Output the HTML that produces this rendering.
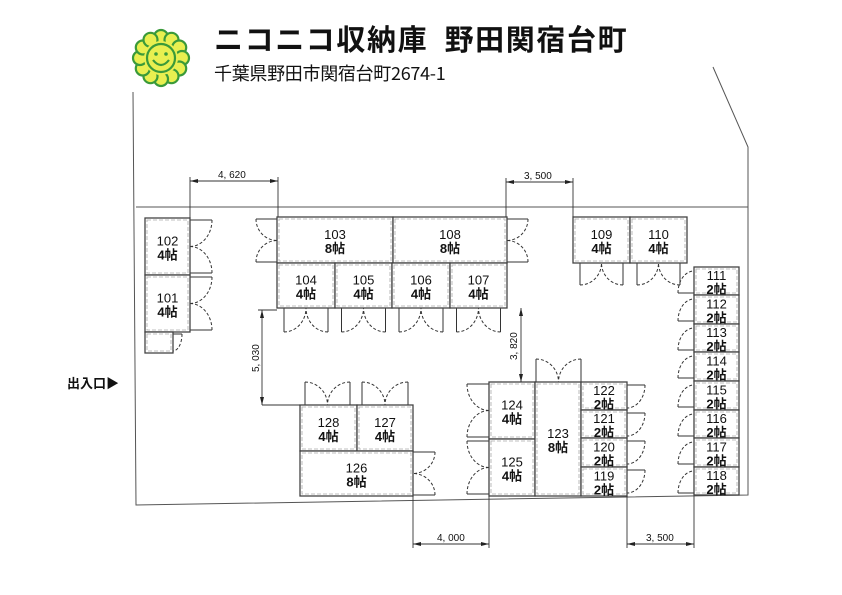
<!DOCTYPE html>
<html><head><meta charset="utf-8"><style>
html,body{margin:0;padding:0;background:#fff;}
body{width:842px;height:595px;overflow:hidden;position:relative;font-family:"Liberation Sans","Noto Sans CJK JP",sans-serif;}
.t1{position:absolute;left:214px;top:17px;font-size:29px;font-weight:bold;letter-spacing:1.6px;color:#111;white-space:nowrap;font-family:"Noto Sans CJK JP",sans-serif;}
.t2{position:absolute;left:214px;top:60px;font-size:18px;letter-spacing:-0.3px;color:#111;white-space:nowrap;font-family:"Noto Sans CJK JP",sans-serif;}
svg{position:absolute;left:0;top:0;}
</style></head><body>
<div class="t1">ニコニコ収納庫&nbsp;&nbsp;野田関宿台町</div>
<div class="t2">千葉県野田市関宿台町2674-1</div>
<svg id="s" width="842" height="595" viewBox="0 0 842 595" font-family="Liberation Sans, Noto Sans CJK JP, sans-serif">
<g transform="translate(161,58)" stroke="#3a9a3a" stroke-width="2.2" fill="#e8ef50">
<circle cx="0" cy="-21" r="7"/><circle cx="10.5" cy="-18.2" r="7"/><circle cx="18.2" cy="-10.5" r="7"/><circle cx="21" cy="0" r="7"/>
<circle cx="18.2" cy="10.5" r="7"/><circle cx="10.5" cy="18.2" r="7"/><circle cx="0" cy="21" r="7"/><circle cx="-10.5" cy="18.2" r="7"/>
<circle cx="-18.2" cy="10.5" r="7"/><circle cx="-21" cy="0" r="7"/><circle cx="-18.2" cy="-10.5" r="7"/><circle cx="-10.5" cy="-18.2" r="7"/>
<circle cx="0" cy="0" r="17" stroke="none"/>
<circle cx="0" cy="0" r="14"/>
<circle cx="-5" cy="-4" r="1.8" fill="#3a9a3a" stroke="none"/><circle cx="5" cy="-4" r="1.8" fill="#3a9a3a" stroke="none"/>
<path d="M-8 2 Q0 12 8 2" fill="none"/>
</g>
<g stroke="#555" stroke-width="1" fill="none">
<path d="M133 92 L136 505 L748 495 L748 147 L713 67"/>
<path d="M136 207 L748 207"/>
</g>
<text x="67" y="388" font-size="13" font-weight="bold" fill="#111">出入口▶</text>
<g id="doors" stroke="#333" stroke-width="1" fill="none"></g>
<g id="boxes"></g>
<g id="dims" stroke="#333" stroke-width="0.9" fill="none"></g>
<g font-size="10" fill="#111" font-family="Liberation Sans, sans-serif">
<text x="218" y="178">4, 620</text>
<text x="524" y="179">3, 500</text>
<text x="437" y="541">4, 000</text>
<text x="646" y="541">3, 500</text>
<text transform="translate(259,372) rotate(-90)">5, 030</text>
<text transform="translate(517,360) rotate(-90)">3, 820</text>
</g>
</svg>
<script>
var NS="http://www.w3.org/2000/svg";
function el(p,tag,a){var e=document.createElementNS(NS,tag);for(var k in a)e.setAttribute(k,a[k]);p.appendChild(e);return e;}
var D=document.getElementById('doors'),B=document.getElementById('boxes'),M=document.getElementById('dims');
function arc(cx,cy,ax,ay,bx,by,nx,ny,tx,ty,d,h){
 var rx=nx!==0?d:h, ry=nx!==0?h:d; var cr=nx*ty-ny*tx; var sw=cr>0?1:0;
 el(D,'path',{d:'M'+ax+' '+ay+' A'+rx+' '+ry+' 0 0 '+sw+' '+bx+' '+by,'stroke-dasharray':'3 2'});
}
function dbl(x1,y1,x2,y2,nx,ny,d){
 var mx=(x1+x2)/2,my=(y1+y2)/2,h=Math.abs(x2-x1)+Math.abs(y2-y1);h/=2;
 var tx=(x2-x1)?Math.sign(x2-x1):0,ty=(y2-y1)?Math.sign(y2-y1):0;
 var a1x=x1+nx*d,a1y=y1+ny*d,a2x=x2+nx*d,a2y=y2+ny*d;
 el(D,'path',{d:'M'+x1+' '+y1+' L'+a1x+' '+a1y+' M'+x2+' '+y2+' L'+a2x+' '+a2y});
 arc(x1,y1,a1x,a1y,mx,my,nx,ny,tx,ty,d,h);
 arc(x2,y2,a2x,a2y,mx,my,nx,ny,-tx,-ty,d,h);
}
function sgl(x1,y1,x2,y2,nx,ny,d){
 var h=Math.abs(x2-x1)+Math.abs(y2-y1);
 var tx=(x2-x1)?Math.sign(x2-x1):0,ty=(y2-y1)?Math.sign(y2-y1):0;
 var ax=x1+nx*d,ay=y1+ny*d;
 el(D,'path',{d:'M'+x1+' '+y1+' L'+ax+' '+ay});
 arc(x1,y1,ax,ay,x2,y2,nx,ny,tx,ty,d,h);
}
function box(x,y,w,h,n,s){
 el(B,'rect',{x:x,y:y,width:w,height:h,fill:'#fff',stroke:'#444','stroke-width':1.3});
 el(B,'rect',{x:x+2,y:y+2,width:w-4,height:h-4,fill:'none',stroke:'#aaa','stroke-width':0.8,'stroke-dasharray':'4 2'});
 if(n){var cx=x+w/2,cy=y+h/2;
 var t=el(B,'text',{x:cx,y:cy-1,'font-size':13,'text-anchor':'middle',fill:'#111'});t.textContent=n;
 var t2=el(B,'text',{x:cx,y:cy+13,'font-size':13,'text-anchor':'middle',fill:'#111','font-weight':'bold'});t2.textContent=s;}
}
dbl(190,220,190,273,1,0,22);dbl(190,277,190,330,1,0,22);
dbl(277,219,277,262,-1,0,21);dbl(507,219,507,262,1,0,21);
[284,341.5,399,456.5].forEach(function(x){dbl(x,308,x+44,308,0,1,24);});
dbl(580,263,623,263,0,1,22);dbl(637,263,680,263,0,1,22);
dbl(305,405,350,405,0,-1,23);dbl(362,405,408,405,0,-1,23);
dbl(413,452,413,495,1,0,22);
dbl(489,384,489,437,-1,0,22);dbl(489,441,489,494,-1,0,22);
dbl(536,382,581,382,0,-1,23);
[382,410,438,467].forEach(function(y){sgl(627,y+3,627,y+26,1,0,18);});
[267,295,324,352,381,410,438,467].forEach(function(y){sgl(694,y+26,694,y+4,-1,0,16);});
box(145,218,45,57,'102','4帖');box(145,275,45,57,'101','4帖');
box(145,332,28,21,'','');sgl(173,334,173,351,1,0,9);
box(277,217,116,46,'103','8帖');box(393,217,114,46,'108','8帖');
box(277,263,58,45,'104','4帖');box(335,263,57,45,'105','4帖');box(392,263,58,45,'106','4帖');box(450,263,57,45,'107','4帖');
box(573,217,57,46,'109','4帖');box(630,217,57,46,'110','4帖');
var ys=[267,295,324,352,381,410,438,467,495];
for(var i=0;i<8;i++)box(694,ys[i],45,ys[i+1]-ys[i],String(111+i),'2帖');
box(300,405,57,46,'128','4帖');box(357,405,56,46,'127','4帖');box(300,451,113,45,'126','8帖');
box(489,382,46,57,'124','4帖');box(489,439,46,57,'125','4帖');box(535,382,46,114,'123','8帖');
var y2=[382,410,438,467,496],nm=['122','121','120','119'];
for(var j=0;j<4;j++)box(581,y2[j],46,y2[j+1]-y2[j],nm[j],'2帖');
function L(a,b,c,d){el(M,'path',{d:'M'+a+' '+b+' L'+c+' '+d});}
function ar(x,y,dir){var p;if(dir=='r')p=[x,y,x-8,y-2,x-8,y+2];if(dir=='l')p=[x,y,x+8,y-2,x+8,y+2];if(dir=='u')p=[x,y,x-2,y+8,x+2,y+8];if(dir=='d')p=[x,y,x-2,y-8,x+2,y-8];
 el(M,'polygon',{points:p.join(' '),fill:'#222',stroke:'none'});}
L(190,181,278,181);L(190,177,190,218);L(278,177,278,217);ar(190,181,'l');ar(278,181,'r');
L(506,182,573,182);L(506,178,506,217);L(573,178,573,217);ar(506,182,'l');ar(573,182,'r');
L(413,544,489,544);L(413,496,413,548);L(489,496,489,548);ar(413,544,'l');ar(489,544,'r');
L(627,544,694,544);L(627,496,627,548);L(694,496,694,548);ar(627,544,'l');ar(694,544,'r');
L(262,310,262,405);L(258,310,277,310);L(262,405,300,405);ar(262,310,'u');ar(262,405,'d');
L(521,308,521,382);ar(521,308,'u');ar(521,382,'d');
</script>
</body></html>
